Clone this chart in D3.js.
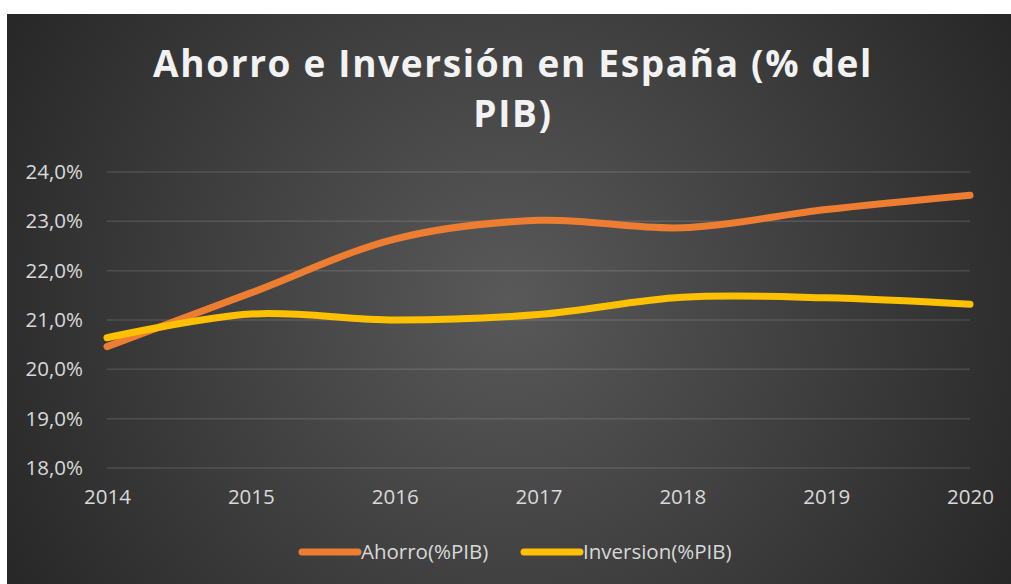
<!DOCTYPE html>
<meta charset="utf-8">
<style>
body { margin: 0; background: #fff; }
svg text { font-family: "Open Sans", sans-serif; }
</style>
<body>
<svg width="1011" height="584"></svg>
</body>
<script src="https://d3js.org/d3.v7.min.js"></script>
<script>
const years = [2014, 2015, 2016, 2017, 2018, 2019, 2020]
const ahorro = [20.46, 21.55, 22.64, 23.02, 22.87, 23.24, 23.53]
const inversion = [20.64, 21.12, 21.00, 21.11, 21.46, 21.45, 21.32]
const yTicks = [18, 19, 20, 21, 22, 23, 24]
const seriesNames = ["Ahorro(%PIB)", "Inversion(%PIB)"]
const seriesColors = ["#ED7D31", "#FFC000"]

const svg = d3.select("svg")

// chart area (leaves white strip at top/left like the reference)
const box = {x: 7, y: 14, w: 1004, h: 570}

const defs = svg.append("defs")
const grad = defs.append("radialGradient")
  .attr("id", "bg")
  .attr("gradientUnits", "userSpaceOnUse")
  .attr("cx", 509).attr("cy", 300).attr("r", 590)
grad.append("stop").attr("offset", "0%").attr("stop-color", "#595959")
grad.append("stop").attr("offset", "100%").attr("stop-color", "#262626")

svg.append("rect")
  .attr("x", box.x).attr("y", box.y)
  .attr("width", box.w).attr("height", box.h)
  .attr("fill", "url(#bg)")

const x = d3.scaleLinear().domain([2014, 2020]).range([107, 970])
const y = d3.scaleLinear().domain([18, 24]).range([468, 172])

// gridlines
svg.append("g")
  .selectAll("line")
  .data(yTicks)
  .join("line")
    .attr("x1", x.range()[0]).attr("x2", x.range()[1])
    .attr("y1", d => y(d)).attr("y2", d => y(d))
    .attr("stroke", "#ffffff").attr("stroke-opacity", 0.12)
    .attr("stroke-width", 1.5)

// y axis labels
const fmt = d => d3.format(".1f")(d).replace(".", ",") + "%"
const yAxis = svg.append("g")
  .attr("transform", `translate(${x.range()[0]},0)`)
  .call(d3.axisLeft(y).tickValues(yTicks).tickFormat(fmt).tickSize(0).tickPadding(24))
yAxis.select(".domain").remove()
yAxis.selectAll("text")
  .attr("fill", "#d9d9d9").style("font-size", "20.5px")

// x axis labels
const xAxis = svg.append("g")
  .attr("transform", `translate(0,${y.range()[0]})`)
  .call(d3.axisBottom(x).tickValues(years).tickFormat(d3.format("d")).tickSize(0).tickPadding(21))
xAxis.select(".domain").remove()
xAxis.selectAll("text")
  .attr("fill", "#d9d9d9").style("font-size", "20.5px")

// lines
const line = d3.line()
  .x((d, i) => x(years[i]))
  .y(d => y(d))
  .curve(d3.curveCardinal.tension(0))

;[ahorro, inversion].forEach((s, i) => {
  svg.append("path")
    .datum(s)
    .attr("d", line)
    .attr("fill", "none")
    .attr("stroke", seriesColors[i])
    .attr("stroke-width", 7)
    .attr("stroke-linecap", "round")
    .attr("stroke-linejoin", "round")
})

// title
const title = svg.append("text")
  .attr("text-anchor", "middle")
  .attr("fill", "#f2f2f2")
  .style("font-size", "37px")
  .style("font-weight", "bold")
const t1 = title.append("tspan").attr("x", 513).attr("y", 77).text("Ahorro e Inversión en España (% del")
const t2 = title.append("tspan").attr("x", 513).attr("y", 127).text("PIB)")
// spread letters to fill the width of the reference title line
const natural = t1.node().getComputedTextLength()
const spacing = (720 - natural) / t1.text().length
title.style("letter-spacing", spacing + "px")

// legend
const legendItems = [{x: 302, name: seriesNames[0], color: seriesColors[0]},
                     {x: 524, name: seriesNames[1], color: seriesColors[1]}]
const lg = svg.append("g").selectAll("g").data(legendItems).join("g")
  .attr("transform", d => `translate(${d.x},552)`)
lg.append("line")
  .attr("x1", 0).attr("x2", 56)
  .attr("stroke", d => d.color).attr("stroke-width", 7)
  .attr("stroke-linecap", "round")
lg.append("text")
  .attr("x", 59).attr("y", 7)
  .attr("fill", "#d9d9d9").style("font-size", "20.5px")
  .text(d => d.name)
</script>
